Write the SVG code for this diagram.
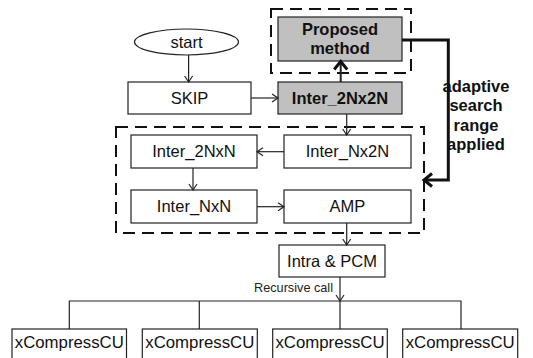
<svg xmlns="http://www.w3.org/2000/svg" width="533" height="358" viewBox="0 0 533 358">
<style>
.box{fill:#fff;stroke:#222;stroke-width:1.2}
.gray{fill:#c0c0c0;stroke:#222;stroke-width:1.2}
.dash{fill:none;stroke:#111;stroke-width:2;stroke-dasharray:12 7}
.t{font-family:"Liberation Sans",Arial,sans-serif;font-size:16.5px;fill:#111;text-anchor:middle}
.b{font-weight:bold}
.ln{fill:none;stroke:#222;stroke-width:1.2}
.bold{fill:none;stroke:#111;stroke-width:3}
</style>
<defs>
<marker id="a" markerWidth="10" markerHeight="10" refX="8" refY="5" orient="auto" markerUnits="userSpaceOnUse">
<path d="M2,1 L8,5 L2,9" fill="none" stroke="#222" stroke-width="1.2"/>
</marker>
<marker id="ab" markerWidth="16" markerHeight="16" refX="10" refY="8" orient="auto" markerUnits="userSpaceOnUse">
<path d="M2,1.5 L10,8 L2,14.5" fill="none" stroke="#111" stroke-width="3"/>
</marker>
</defs>
<rect class="dash" x="271" y="9" width="140" height="64"/>
<rect class="dash" x="116" y="127" width="308" height="106"/>
<g id="start"><ellipse class="box" cx="186.5" cy="42" rx="52" ry="13"/><text class="t" x="186.5" y="47.5">start</text></g>
<g id="proposed"><rect class="gray" x="278" y="17" width="124" height="44"/><text class="t b" x="340" y="34.5">Proposed</text><text class="t b" x="340" y="53.5">method</text></g>
<g id="skip"><rect class="box" x="128" y="82" width="123" height="32"/><text class="t" x="189.5" y="103.5">SKIP</text></g>
<g id="inter2nx2n"><rect class="gray" x="278" y="82" width="124" height="32"/><text class="t b" x="340" y="103.5">Inter_2Nx2N</text></g>
<g id="inter2nxn"><rect class="box" x="131" y="135" width="126" height="33"/><text class="t" x="194" y="157">Inter_2NxN</text></g>
<g id="internx2n"><rect class="box" x="284" y="135" width="127" height="33"/><text class="t" x="347.5" y="157">Inter_Nx2N</text></g>
<g id="internxn"><rect class="box" x="131" y="190" width="126" height="33"/><text class="t" x="194" y="212">Inter_NxN</text></g>
<g id="amp"><rect class="box" x="284" y="190" width="127" height="33"/><text class="t" x="347.5" y="212">AMP</text></g>
<g id="intra"><rect class="box" x="279" y="245" width="106" height="32"/><text class="t" x="332" y="266.5">Intra &amp; PCM</text></g>
<g id="cu1"><rect class="box" x="12" y="329" width="114.5" height="40"/><text class="t" x="69.3" y="347.5" style="font-size:16.8px">xCompressCU</text></g>
<g id="cu2"><rect class="box" x="142.3" y="329" width="115" height="40"/><text class="t" x="199.8" y="347.5" style="font-size:16.8px">xCompressCU</text></g>
<g id="cu3"><rect class="box" x="272.7" y="329" width="114.6" height="40"/><text class="t" x="330" y="347.5" style="font-size:16.8px">xCompressCU</text></g>
<g id="cu4"><rect class="box" x="402.7" y="329" width="115" height="40"/><text class="t" x="460.2" y="347.5" style="font-size:16.8px">xCompressCU</text></g>
<g id="label-adaptive"><text class="t b" x="476" y="92">adaptive</text><text class="t b" x="476" y="111">search</text><text class="t b" x="476" y="130.5">range</text><text class="t b" x="476" y="149.5">applied</text></g>
<g id="connectors">
<line class="ln" x1="188.6" y1="55" x2="188.6" y2="82" marker-end="url(#a)"/>
<line class="ln" x1="251" y1="98" x2="278" y2="98" marker-end="url(#a)"/>
<line class="ln" x1="340.7" y1="82" x2="340.7" y2="61.5" style="stroke-width:2" marker-end="url(#ab)"/>
<line class="ln" x1="346.7" y1="114" x2="346.7" y2="135" marker-end="url(#a)"/>
<line class="ln" x1="284" y1="151.7" x2="257" y2="151.7" marker-end="url(#a)"/>
<line class="ln" x1="193" y1="168" x2="193" y2="190" marker-end="url(#a)"/>
<line class="ln" x1="257" y1="206.7" x2="284" y2="206.7" marker-end="url(#a)"/>
<line class="ln" x1="346.7" y1="223" x2="346.7" y2="245" marker-end="url(#a)"/>
<line class="ln" x1="340" y1="277" x2="340" y2="301" marker-end="url(#a)"/>
<polyline class="ln" points="69.3,329 69.3,301 461,301 461,329"/>
<line class="ln" x1="199.3" y1="301" x2="199.3" y2="329"/>
<line class="ln" x1="340" y1="301" x2="340" y2="329"/>
<polyline class="bold" points="402,40 448.3,40 448.3,180 424,180" marker-end="url(#ab)"/>
<text x="333" y="291.5" style="font-family:'Liberation Sans',Arial,sans-serif;font-size:12.7px;fill:#222;text-anchor:end">Recursive call</text>
</g>
</svg>
